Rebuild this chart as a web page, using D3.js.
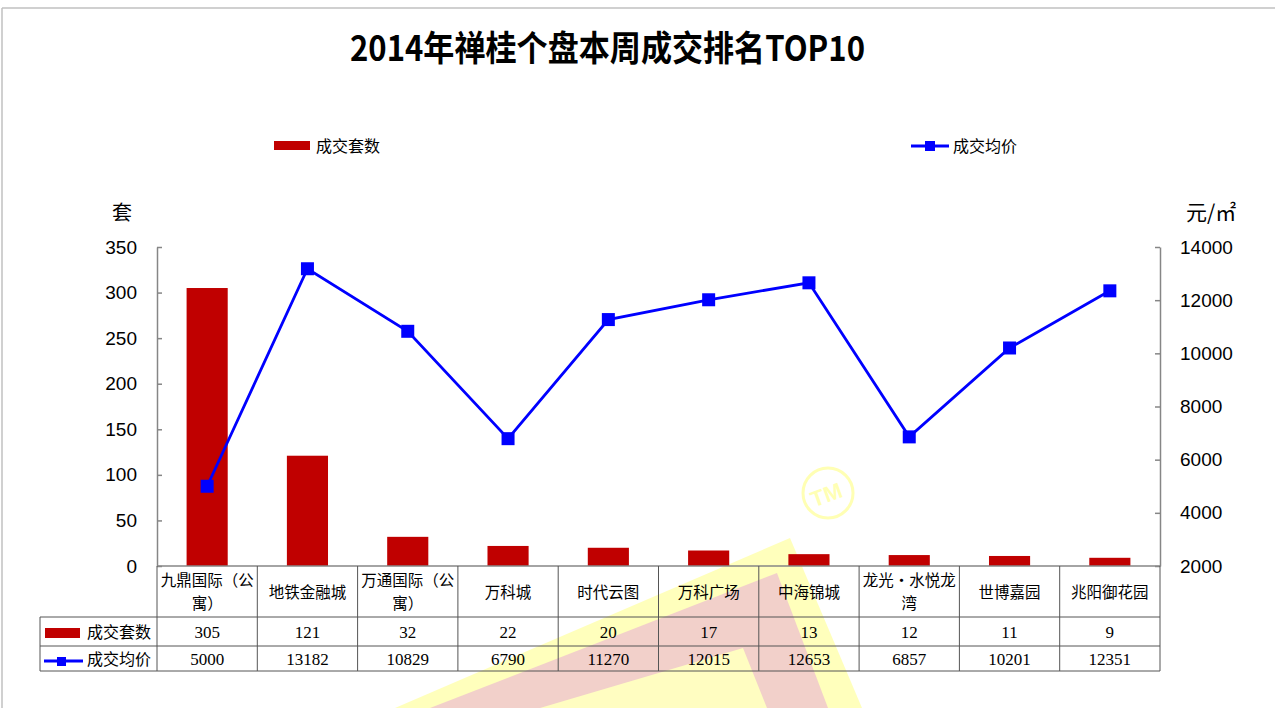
<!DOCTYPE html>
<html>
<head>
<meta charset="utf-8">
<script src="https://cdn.jsdelivr.net/npm/d3@7"></script>
<style>
  body { margin: 0; background: #fff; }
  svg { display: block; }
</style>
</head>
<body>
<div id="chart"></div>
<script>
// chart data
const categories = ["九鼎国际（公寓）", "地铁金融城", "万通国际（公寓）", "万科城", "时代云图", "万科广场", "中海锦城", "龙光・水悦龙湾", "世博嘉园", "兆阳御花园"];
const dealCount = [305, 121, 32, 22, 20, 17, 13, 12, 11, 9];
const avgPrice = [5000, 13182, 10829, 6790, 11270, 12015, 12653, 6857, 10201, 12351];
const leftTicks = [0, 50, 100, 150, 200, 250, 300, 350];
const rightTicks = [2000, 4000, 6000, 8000, 10000, 12000, 14000];
const seriesNames = ["成交套数", "成交均价"];

const width = 1275, height = 708;
const margin = { top: 247, right: 115, bottom: 142, left: 157 };
const red = "#c00000", blue = "#0000ff";
const cjk = "'Noto Sans CJK SC', sans-serif";

const svg = d3.select("#chart").append("svg")
  .attr("width", width)
  .attr("height", height);

// outer frame (top and left edges only visible)
svg.append("line").attr("x1", 2).attr("x2", width).attr("y1", 8).attr("y2", 8)
  .attr("stroke", "#c0c0c0").attr("stroke-width", 1.5);
svg.append("line").attr("x1", 2).attr("x2", 2).attr("y1", 8).attr("y2", height)
  .attr("stroke", "#c0c0c0").attr("stroke-width", 1.5);

// watermark in the background
const wm = svg.append("g");
wm.append("polygon").attr("points", "395,708 790,538 862,708").attr("fill", "#ffff90").attr("opacity", 0.6);
wm.append("polygon").attr("points", "430,708 777,573 828,708").attr("fill", "#f0c8cc").attr("opacity", 0.85);
wm.append("polygon").attr("points", "540,708 743,648 767,708").attr("fill", "#ffffc0").attr("opacity", 0.95);
wm.append("circle").attr("cx", 828).attr("cy", 493).attr("r", 25)
  .attr("fill", "none").attr("stroke", "#ffffb4").attr("stroke-width", 3);
wm.append("text").attr("transform", "translate(829,502) rotate(-20)")
  .attr("text-anchor", "middle").attr("font-family", "Liberation Sans, sans-serif")
  .attr("font-weight", "bold").attr("font-size", 22).attr("fill", "#ffffb4").text("TM");

// title
svg.append("text")
  .attr("x", 350).attr("y", 61)
  .attr("textLength", 515).attr("lengthAdjust", "spacingAndGlyphs")
  .attr("font-family", "'Noto Sans CJK SC', sans-serif")
  .attr("font-weight", "bold").attr("font-size", 35)
  .text("2014年禅桂个盘本周成交排名TOP10");

// scales
const x = d3.scaleBand()
  .domain(categories)
  .range([margin.left, width - margin.right])
  .padding(0);
const yL = d3.scaleLinear().domain([0, 350]).range([height - margin.bottom, margin.top]);
const yR = d3.scaleLinear().domain([2000, 14000]).range([height - margin.bottom, margin.top]);
const barW = x.step() * 0.41;
const y0 = height - margin.bottom;

// axes
const axL = svg.append("g").attr("transform", `translate(${margin.left},0)`)
  .call(d3.axisLeft(yL).tickValues(leftTicks).tickSize(-5).tickSizeOuter(0).tickPadding(20));
const axR = svg.append("g").attr("transform", `translate(${width - margin.right},0)`)
  .call(d3.axisRight(yR).tickValues(rightTicks).tickFormat(d3.format("d")).tickSize(-5).tickSizeOuter(0).tickPadding(20));
[axL, axR].forEach(ax => {
  ax.select(".domain").attr("stroke", "#868686").attr("stroke-width", 1.5);
  ax.selectAll(".tick line").attr("stroke", "#868686").attr("stroke-width", 1.5);
  ax.selectAll(".tick text").attr("font-family", "'Liberation Sans', Arial, sans-serif")
    .attr("font-size", 19).attr("fill", "#000");
});

// unit labels
svg.append("text").attr("x", 122).attr("y", 220).attr("text-anchor", "middle")
  .attr("font-family", cjk).attr("font-size", 20).text("套");
svg.append("text").attr("x", 1186).attr("y", 220)
  .attr("font-family", cjk).attr("font-size", 21).text("元/㎡");

// bars
svg.selectAll("rect.bar")
  .data(categories)
  .enter()
  .append("rect")
  .attr("class", "bar")
  .attr("x", d => x(d) + (x.step() - barW) / 2)
  .attr("y", (d, i) => yL(dealCount[i]))
  .attr("width", barW)
  .attr("height", (d, i) => yL(0) - yL(dealCount[i]))
  .attr("fill", red);

// price line
const line = d3.line()
  .x((d, i) => x(categories[i]) + x.step() / 2)
  .y(d => yR(d));
svg.append("path")
  .datum(avgPrice)
  .attr("d", line)
  .attr("fill", "none")
  .attr("stroke", blue)
  .attr("stroke-width", 2.8);
svg.selectAll("rect.mark")
  .data(avgPrice)
  .enter()
  .append("rect")
  .attr("class", "mark")
  .attr("x", (d, i) => x(categories[i]) + x.step() / 2 - 6.5)
  .attr("y", d => yR(d) - 6.5)
  .attr("width", 13)
  .attr("height", 13)
  .attr("fill", blue);

// top legend
svg.append("rect").attr("x", 274).attr("y", 141).attr("width", 36).attr("height", 9).attr("fill", red);
svg.append("text").attr("x", 316).attr("y", 152).attr("font-family", cjk).attr("font-size", 16).text(seriesNames[0]);
svg.append("line").attr("x1", 911).attr("x2", 949).attr("y1", 146).attr("y2", 146)
  .attr("stroke", blue).attr("stroke-width", 2.8);
svg.append("rect").attr("x", 925).attr("y", 141).attr("width", 10).attr("height", 10).attr("fill", blue);
svg.append("text").attr("x", 953).attr("y", 152).attr("font-family", cjk).attr("font-size", 16).text(seriesNames[1]);

// data table
const rowY = [y0, 617, 646, 671];
const tableLeft = 40;
const xr = width - margin.right;
const gridColor = "#555";
const grid = svg.append("g").attr("stroke", gridColor).attr("stroke-width", 1);
grid.append("line").attr("x1", margin.left).attr("x2", xr).attr("y1", rowY[0]).attr("y2", rowY[0]).attr("stroke", "#868686").attr("stroke-width", 1.5);
rowY.slice(1).forEach(yy => {
  grid.append("line").attr("x1", tableLeft).attr("x2", xr).attr("y1", yy).attr("y2", yy);
});
grid.append("line").attr("x1", tableLeft).attr("x2", tableLeft).attr("y1", rowY[1]).attr("y2", rowY[3]);
categories.forEach(c => {
  grid.append("line").attr("x1", x(c)).attr("x2", x(c)).attr("y1", rowY[0]).attr("y2", rowY[3]);
});
grid.append("line").attr("x1", xr).attr("x2", xr).attr("y1", rowY[0]).attr("y2", rowY[3]);

// category labels, wrapped to cell width
const catFont = 15.5;
const maxChars = Math.floor((x.step() - 4) / catFont);
categories.forEach(c => {
  const chars = Array.from(c);
  const lines = [];
  for (let i = 0; i < chars.length; i += maxChars) lines.push(chars.slice(i, i + maxChars).join(""));
  const cx = x(c) + x.step() / 2;
  const mid = (rowY[0] + rowY[1]) / 2;
  lines.forEach((t, k) => {
    svg.append("text")
      .attr("x", cx)
      .attr("y", mid + (k - (lines.length - 1) / 2) * 23 + 6)
      .attr("text-anchor", "middle")
      .attr("font-family", cjk)
      .attr("font-size", catFont)
      .text(t);
  });
});

// table values
[dealCount, avgPrice].forEach((vals, r) => {
  const cy = (rowY[r + 1] + rowY[r + 2]) / 2 + 6;
  svg.selectAll(null)
    .data(vals)
    .enter()
    .append("text")
    .attr("x", (d, i) => x(categories[i]) + x.step() / 2)
    .attr("y", cy)
    .attr("text-anchor", "middle")
    .attr("font-family", "'Liberation Serif', serif")
    .attr("font-size", 17)
    .text(d => d);
  svg.append("text")
    .attr("x", 87).attr("y", cy)
    .attr("font-family", cjk).attr("font-size", 16)
    .text(seriesNames[r]);
});

// table legend keys
svg.append("rect").attr("x", 45).attr("y", 628).attr("width", 35).attr("height", 10).attr("fill", red);
svg.append("line").attr("x1", 44).attr("x2", 83).attr("y1", 661).attr("y2", 661)
  .attr("stroke", blue).attr("stroke-width", 2.8);
svg.append("rect").attr("x", 57).attr("y", 657).attr("width", 9).attr("height", 9).attr("fill", blue);
</script>
</body>
</html>
